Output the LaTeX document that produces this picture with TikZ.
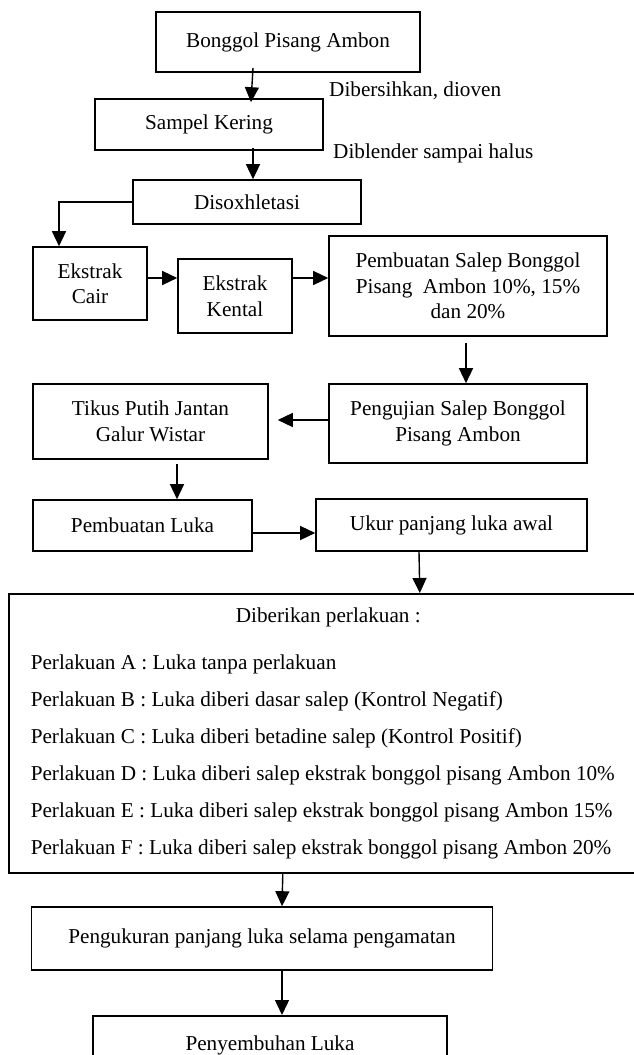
\documentclass[tikz,border=0pt]{standalone}
\usepackage{fontspec}
\setmainfont{Liberation Serif}
\usetikzlibrary{arrows.meta}

\tikzset{
    box/.style={draw, line width=1.6pt, inner sep=0pt, align=center,
        font=\fontsize{21.2}{25.5}\selectfont},
    note/.style={anchor=west, inner sep=0pt, font=\fontsize{21.2}{25.5}\selectfont},
    arr/.style={line width=1.4pt, -{Triangle[length=15pt,width=14pt]}}
}

\begin{document}
\begin{tikzpicture}[x=1pt,y=-1pt]
    \clip (0,0) rectangle (634,1055);
    \node[box, minimum width=264pt, minimum height=60pt] (bonggol) at (288,42) {Bonggol Pisang Ambon};
    \node[box, minimum width=228pt, minimum height=51pt] (sampel) at (209,124.5) {Sampel Kering};
    \node[box, minimum width=228pt, minimum height=44pt] (disox) at (247,202) {Disoxhletasi};
    \node[note] (bersih) at (329,91) {Dibersihkan, dioven};
    \node[note] (blender) at (333,153) {Diblender sampai halus};
    \node[box, minimum width=114pt, minimum height=73pt] (cair) at (90,283.5) {Ekstrak\\Cair};
    \node[box, minimum width=114pt, minimum height=74pt] (kental) at (235,296) {Ekstrak\\Kental};
    \node[box, minimum width=278pt, minimum height=100pt] (salep) at (468,286) {Pembuatan Salep Bonggol\\Pisang~ Ambon 10\%, 15\%\\dan 20\%};
    \node[box, minimum width=258pt, minimum height=79pt] (uji) at (458,423.5) {Pengujian Salep Bonggol\\Pisang Ambon};
    \node[box, minimum width=235pt, minimum height=75pt] (tikus) at (150.5,421.5) {Tikus Putih Jantan\\Galur Wistar};
    \node[box, minimum width=219pt, minimum height=51pt] (luka) at (142.5,525.5) {Pembuatan Luka};
    \node[box, minimum width=271pt, minimum height=52pt] (ukur) at (451.5,525) {Ukur panjang luka awal};
    \node[box, minimum width=639pt, minimum height=279pt, anchor=north west] (perlakuan) at (8,593) {%
        \begin{minipage}{595pt}\fontsize{21.2}{37}\selectfont
        \centering Diberikan perlakuan :\par\vspace{10pt}
        \raggedright
        Perlakuan A : Luka tanpa perlakuan\par
        Perlakuan B : Luka diberi dasar salep (Kontrol Negatif)\par
        Perlakuan C : Luka diberi betadine salep (Kontrol Positif)\par
        Perlakuan D : Luka diberi salep ekstrak bonggol pisang Ambon 10\%\par
        Perlakuan E : Luka diberi salep ekstrak bonggol pisang Ambon 15\%\par
        Perlakuan F : Luka diberi salep ekstrak bonggol pisang Ambon 20\%\par
        \end{minipage}};
    \node[box, minimum width=461pt, minimum height=63pt] (ukurlama) at (262,938.5) {Pengukuran panjang luka selama pengamatan};
    \node[box, minimum width=354pt, minimum height=60pt, anchor=north] (sembuh) at (270,1015) {Penyembuhan Luka};

    \draw[arr] ([xshift=-35pt,yshift=5pt]bonggol.south) -- ([xshift=42pt,yshift=-4pt]sampel.north);
    \draw[arr] ([xshift=44pt,yshift=3pt]sampel.south) -- ([xshift=6pt]disox.north);
    \draw[arr] (disox.west) -| ([xshift=-31pt]cair.north);
    \draw[arr] ([yshift=5.5pt]cair.east) -- ([yshift=18pt]kental.west);
    \draw[arr] ([yshift=18pt]kental.east) -- ([yshift=8pt]salep.west);
    \draw[arr] ([xshift=-2pt,yshift=-6pt]salep.south) -- ([xshift=8pt]uji.north);
    \draw[arr] ([yshift=3.5pt]uji.west) -- ([xshift=9pt,yshift=1.5pt]tikus.east);
    \draw[arr] ([xshift=26.5pt,yshift=-4pt]tikus.south) -- ([xshift=34.5pt]luka.north);
    \draw[arr] ([yshift=-7.5pt]luka.east) -- ([yshift=-8pt]ukur.west);
    \draw[arr] ([xshift=-32.5pt]ukur.south) -- ([xshift=91.5pt]perlakuan.north);
    \draw[arr] ([xshift=-45.5pt]perlakuan.south) -- ([xshift=20pt]ukurlama.north);
    \draw[arr] ([xshift=20pt]ukurlama.south) -- ([xshift=12pt]sembuh.north);
\end{tikzpicture}
\end{document}
